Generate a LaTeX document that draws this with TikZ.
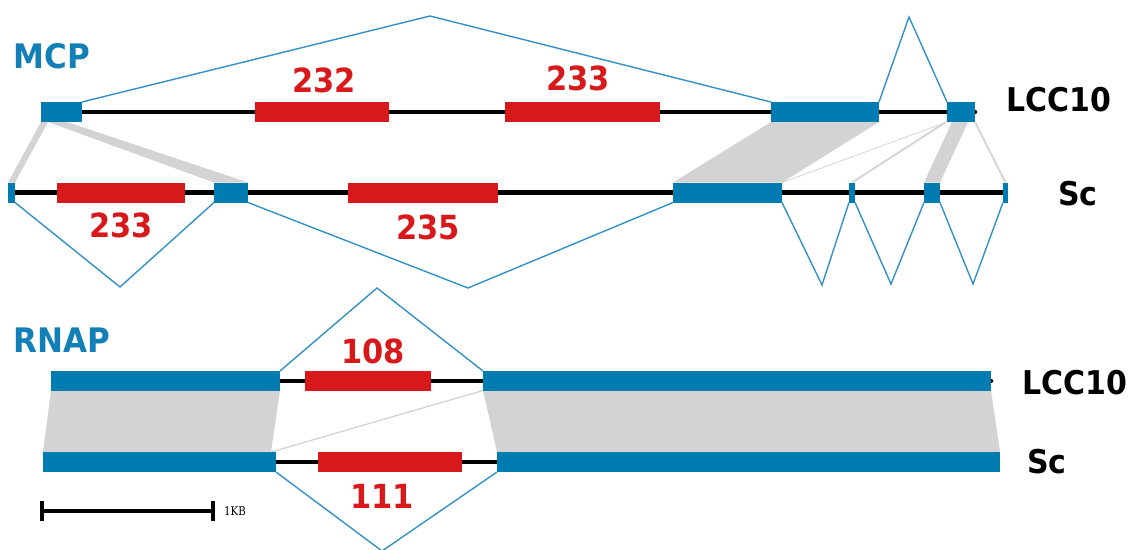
\documentclass[tikz,border=0pt]{standalone}
\usepackage{fontspec}
\setmainfont{DejaVu Sans}
\newfontfamily\smallserif{DejaVu Serif}
\usetikzlibrary{calc}
\definecolor{exonblue}{RGB}{0,124,176}
\definecolor{intronblue}{RGB}{50,145,198}
\definecolor{numred}{RGB}{215,25,28}
\definecolor{alngray}{RGB}{211,211,211}
\definecolor{genelbl}{RGB}{18,128,182}
\newcommand\tallt[1]{\scalebox{1}[1.09]{#1}}
\begin{document}
\begin{tikzpicture}[x=1pt,y=-1pt,
  exon/.style={fill=exonblue, draw=none, inner sep=0pt, outer sep=0pt, minimum height=20pt, anchor=north west},
  cds/.style={fill=numred, draw=none, inner sep=0pt, outer sep=0pt, minimum height=20pt, anchor=north west},
  backbone/.style={draw=black, line width=4.5pt},
  intron/.style={draw=intronblue, line width=1.4pt, line join=miter},
  aln/.style={fill=alngray, draw=none},
  alnline/.style={draw=alngray, line width=1.8pt},
  alnthin/.style={draw=alngray!85!white, line width=1pt},
  seqlbl/.style={font=\fontsize{30}{30}\selectfont\bfseries, inner sep=0pt, text=black},
  numlbl/.style={font=\fontsize{30.5}{30}\selectfont\bfseries, inner sep=0pt, text=numred},
  genelabel/.style={font=\fontsize{31}{31}\selectfont\bfseries, inner sep=0pt, text=genelbl}
]
\useasboundingbox (0,0) rectangle (1137,549);

% ---------------- MCP ----------------
\node[exon, minimum width=41pt] (L1) at (41,102) {};
\node[exon, minimum width=108pt] (L2) at (771,102) {};
\node[exon, minimum width=28pt] (L3) at (947,102) {};
\node[cds, minimum width=134pt] (R232) at (255,102) {};
\node[cds, minimum width=155pt] (R233) at (505,102) {};
\node[exon, minimum width=7pt] (S1) at (8,182.5) {};
\node[cds, minimum width=128pt] (R233b) at (57,182.5) {};
\node[exon, minimum width=34pt] (S2) at (214,182.5) {};
\node[cds, minimum width=150pt] (R235) at (348,182.5) {};
\node[exon, minimum width=109pt] (S3) at (673,182.5) {};
\node[exon, minimum width=6pt] (S4) at (849,182.5) {};
\node[exon, minimum width=16pt] (S5) at (924,182.5) {};
\node[exon, minimum width=5pt] (S6) at (1003,182.5) {};

% alignment shading
\fill[aln] (L1.south west) -- ($(L1.south west)+(7,0)$) -- (S1.north east) -- (S1.north west) -- cycle;
\fill[aln] ($(L1.south west)+(7,0)$) -- ($(L1.south west)+(26,0)$) -- (S2.north east) -- (S2.north west) -- cycle;
\fill[aln] (L2.south west) -- (L2.south east) -- (S3.north east) -- (S3.north west) -- cycle;
\draw[alnthin] (L3.south west) -- (S3.north east);
\draw[alnline] ($(L3.south west)+(-1,0)$) -- (S4.north);
\fill[aln] ($(L3.south west)+(5,0)$) -- ($(L3.south west)+(21,0)$) -- (S5.north east) -- (S5.north west) -- cycle;
\draw[alnline] (L3.south east) -- (S6.north);

% backbones
\draw[backbone, line cap=round] (L1.center) -- (L3.east);
\draw[backbone] (S1.center) -- (S6.center);
\foreach \n in {L1,L2,L3,S1,S2,S3,S4,S5,S6}{\fill[exonblue] (\n.north west) rectangle (\n.south east);}
\foreach \n in {R232,R233,R233b,R235}{\fill[numred] (\n.north west) rectangle (\n.south east);}

% intron connectors
\coordinate (a1) at (430,16);
\coordinate (a2) at (909,17);
\coordinate (b1) at (120,287);
\coordinate (b2) at (468,288);
\coordinate (b3) at (822,285);
\coordinate (b4) at (891,284);
\coordinate (b5) at (973,284);
\draw[intron] (L1.north east) -- (a1) -- (L2.north west);
\draw[intron] (L2.north east) -- (a2) -- (L3.north west);
\draw[intron] (S1.south east) -- (b1) -- (S2.south west);
\draw[intron] (S2.south east) -- (b2) -- (S3.south west);
\draw[intron] (S3.south east) -- (b3) -- (S4.south west);
\draw[intron] (S4.south east) -- (b4) -- (S5.south west);
\draw[intron] (S5.south east) -- (b5) -- (S6.south west);

% labels
\node[genelabel] (mcp) at (52,56) {\tallt{MCP}};
\node[seqlbl] (lccA) at (1059,100) {\tallt{LCC10}};
\node[seqlbl] (scA) at (1078,194) {\tallt{Sc}};
\node[numlbl] (n232) at (324,80) {\tallt{232}};
\node[numlbl] (n233) at (578,78) {\tallt{233}};
\node[numlbl] (n233b) at (121,225) {\tallt{233}};
\node[numlbl] (n235) at (428,227) {\tallt{235}};

% ---------------- RNAP ----------------
\node[exon, minimum width=229pt, minimum height=19.5pt] (B1) at (51,371) {};
\node[cds, minimum width=126pt, minimum height=19.5pt] (R108) at (305,371) {};
\node[exon, minimum width=508pt, minimum height=19.5pt] (B2) at (483,371) {};
\node[exon, minimum width=233pt] (C1) at (43,452) {};
\node[cds, minimum width=144pt] (R111) at (318,452) {};
\node[exon, minimum width=503pt] (C2) at (497,452) {};

\fill[aln] (B1.south west) -- (B1.south east) -- ($(C1.north east)+(-5,0)$) -- (C1.north west) -- cycle;
\fill[aln] (B2.south west) -- (B2.south east) -- (C2.north east) -- (C2.north west) -- cycle;
\draw[alnline, line width=1.3pt] ($(C1.north east)+(-5,0)$) -- (B2.south west);

\draw[backbone, line cap=round] (B1.center) -- (B2.east);
\draw[backbone] (C1.center) -- (C2.center);
\foreach \n in {B1,B2,C1,C2}{\fill[exonblue] (\n.north west) rectangle (\n.south east);}
\foreach \n in {R108,R111}{\fill[numred] (\n.north west) rectangle (\n.south east);}

\coordinate (c1) at (377,288);
\coordinate (c2) at (382,551);
\draw[intron] (B1.north east) -- (c1) -- (B2.north west);
\draw[intron] (C1.south east) -- (c2) -- (C2.south west);

\node[genelabel] (rnap) at (62,340) {\tallt{RNAP}};
\node[seqlbl] (lccB) at (1075,383) {\tallt{LCC10}};
\node[seqlbl] (scB) at (1047,462) {\tallt{Sc}};
\node[numlbl] (n108) at (373,351) {\tallt{108}};
\node[numlbl] (n111) at (382,496) {\tallt{111}};

% scale bar
\coordinate (sbl) at (42,511);
\coordinate (sbr) at (213,511);
\draw[line width=4pt] (sbl) -- (sbr);
\draw[line width=4pt] ($(sbl)+(0,-10)$) -- ($(sbl)+(0,10)$);
\draw[line width=4pt] ($(sbr)+(0,-10)$) -- ($(sbr)+(0,10)$);
\node[font=\smallserif\fontsize{12}{12}\selectfont, inner sep=0pt, anchor=west] (kb) at (224,511) {\scalebox{0.85}[1]{1KB}};
\end{tikzpicture}
\end{document}
